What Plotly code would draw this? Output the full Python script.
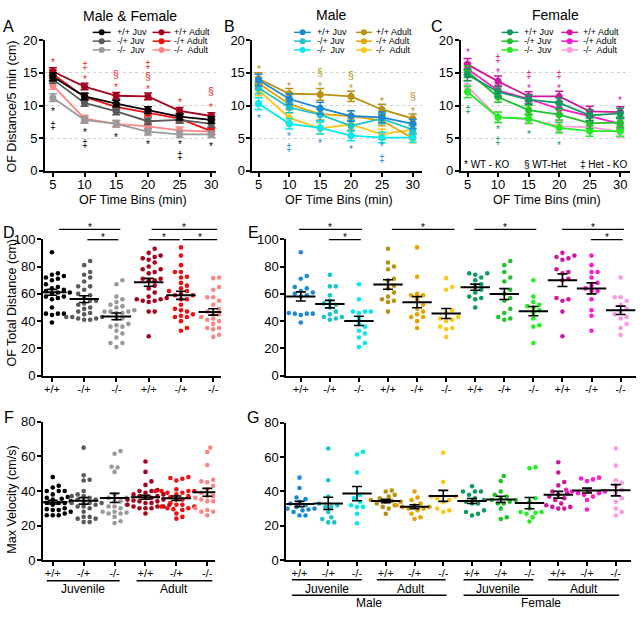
import numpy as np
import plotly.graph_objects as go

W, H = 641, 617
FONT = "Liberation Sans, Arial, sans-serif"

# ---------------- data: time course (A, B, C) ----------------
times = [5, 10, 15, 20, 25, 30]
geno = ["+/+", "-/+", "-/-"]

A_juv_wt = [14.4, 11.4, 10.3, 9.3, 8.3, 7.8]
A_juv_het = [14.0, 10.4, 9.1, 7.6, 7.8, 7.2]
A_juv_ko = [11.2, 7.8, 7.2, 6.0, 5.6, 5.6]
A_ad_wt = [15.2, 12.9, 11.5, 11.4, 9.2, 8.4]
A_ad_het = [14.8, 11.3, 9.8, 8.9, 8.0, 6.1]
A_ad_ko = [13.1, 8.0, 7.2, 6.8, 6.2, 6.0]
A_sem = [0.6, 0.5, 0.5, 0.5, 0.5, 0.5]

B_juv_wt = [13.9, 11.0, 9.6, 8.4, 8.2, 7.2]
B_juv_het = [12.7, 9.7, 8.6, 6.9, 8.0, 6.3]
B_juv_ko = [10.3, 7.2, 6.6, 5.4, 5.1, 5.1]
B_ad_wt = [14.1, 11.8, 11.7, 11.4, 9.4, 8.0]
B_ad_het = [13.4, 10.2, 8.7, 8.4, 7.7, 5.0]
B_ad_ko = [12.4, 8.1, 6.5, 7.1, 5.6, 6.3]
B_sem = [0.9, 0.8, 0.9, 0.8, 0.8, 0.7]

C_juv_wt = [14.7, 12.1, 10.9, 10.4, 8.5, 8.8]
C_juv_het = [15.2, 11.3, 9.3, 8.6, 7.3, 7.4]
C_juv_ko = [12.1, 8.2, 8.0, 6.6, 6.1, 6.1]
C_ad_wt = [16.3, 13.7, 11.4, 11.4, 9.1, 9.0]
C_ad_het = [15.6, 12.3, 11.0, 9.5, 8.4, 7.2]
C_ad_ko = [12.9, 8.2, 7.9, 6.8, 6.7, 6.0]
C_sem = [0.9, 0.8, 0.7, 0.8, 0.8, 0.8]

# significance symbols: (time, y value, symbol, group)
A_marks = [(5, 17.1, "*", "ad"), (5, 9.5, "*", "juv"), (5, 7.1, "‡", "juv"),
           (10, 16.2, "‡", "ad"), (10, 14.4, "*", "ad"), (10, 6.3, "*", "juv"), (10, 4.2, "‡", "juv"),
           (15, 14.9, "§", "ad"), (15, 13.2, "*", "ad"), (15, 5.5, "*", "juv"),
           (20, 16.4, "‡", "ad"), (20, 14.5, "§", "ad"), (20, 12.9, "*", "ad"), (20, 4.5, "*", "juv"),
           (25, 10.9, "*", "ad"), (25, 4.5, "*", "juv"), (25, 2.5, "‡", "juv"),
           (30, 12.2, "§", "ad"), (30, 10.1, "*", "ad"), (30, 4.2, "*", "juv")]
B_marks = [(5, 15.9, "*", "ad"), (5, 8.5, "*", "juv"),
           (10, 13.4, "*", "ad"), (10, 5.8, "*", "juv"), (10, 3.6, "‡", "juv"),
           (15, 15.1, "§", "ad"), (15, 13.4, "*", "ad"), (15, 4.7, "*", "juv"),
           (20, 14.6, "§", "ad"), (20, 13.0, "*", "ad"), (20, 3.7, "*", "juv"),
           (25, 11.1, "*", "ad"), (25, 4.2, "*", "juv"), (25, 1.9, "‡", "juv"),
           (30, 11.4, "§", "ad"), (30, 9.6, "*", "ad")]
C_marks = [(5, 18.5, "*", "ad"), (5, 9.5, "‡", "juv"),
           (10, 17.3, "‡", "ad"), (10, 15.5, "*", "ad"), (10, 6.8, "*", "juv"), (10, 4.8, "‡", "juv"),
           (15, 14.8, "‡", "ad"), (15, 13.0, "*", "ad"), (15, 6.0, "*", "juv"),
           (20, 14.9, "‡", "ad"), (20, 13.0, "*", "ad"), (20, 4.3, "*", "juv"),
           (30, 11.2, "*", "ad")]

# ---------------- data: total distance (E), per animal ----------------
E_m_juv_wt = [90.5, 73, 71, 65, 64, 62, 61, 60, 59, 58, 46, 45.5, 45.5, 45.5, 44.5, 39]
E_m_juv_het = [74, 65.5, 65.5, 59, 55, 53, 52, 50, 47, 45, 43, 43, 42, 41]
E_m_juv_ko = [67, 56, 47, 47, 47, 46, 42, 38, 36, 33, 31, 28, 24, 21]
E_m_ad_wt = [93, 83, 80, 78, 71, 70, 66, 64, 61, 58, 56, 55, 54, 47]
E_m_ad_het = [94, 72.5, 60, 59, 59, 56, 52, 49, 47, 45, 43, 43, 40, 35]
E_m_ad_ko = [71.5, 65, 63, 48, 46, 43, 42, 41, 40, 36, 35, 34, 28.5]
E_f_juv_wt = [75, 75, 74, 72, 70, 67, 65, 63, 61, 58, 57, 56, 50]
E_f_juv_het = [84, 81, 76, 72, 69, 63, 60, 57, 55, 49, 46, 43, 42, 41]
E_f_juv_ko = [70, 58, 54, 52, 51, 50, 48, 46, 42, 37, 36, 24]
E_f_ad_wt = [90, 88, 87, 86, 85, 78, 76, 75, 71, 70, 57, 56, 55, 47, 29]
E_f_ad_het = [88, 81, 76, 76, 72, 68, 66, 64, 62, 62, 56, 48, 44, 33]
E_f_ad_ko = [72, 57.5, 57.5, 55, 52, 49, 47, 45, 43, 42, 38, 35, 30]

# ---------------- data: max velocity (G), per animal ----------------
G_m_juv_wt = [48, 42, 36.5, 35.5, 34, 33, 32, 31, 30, 30, 29.5, 29, 28, 26, 26]
G_m_juv_het = [65, 46.5, 37, 33, 32, 31, 31, 28, 25, 24, 22, 22]
G_m_juv_ko = [63, 61.5, 51, 38, 36, 34, 32, 31, 31, 27, 21.5]
G_m_ad_wt = [40.5, 40, 38, 37, 36, 35, 34.5, 34, 34, 33, 32, 31, 30, 27]
G_m_ad_het = [40, 36.5, 35, 33, 32, 32, 31, 31, 30, 30, 29, 27, 25, 24]
G_m_ad_ko = [62.5, 45.5, 37, 37, 36, 35, 34, 30, 29, 28]
G_f_juv_wt = [43, 40, 40, 40, 38, 36, 35, 34, 33, 33, 29, 28, 27, 26]
G_f_juv_het = [49, 46, 40, 38, 37, 36, 35, 35, 34, 33, 33, 30, 25, 24]
G_f_juv_ko = [54, 53.5, 36, 34, 30, 28, 28, 27.5, 27, 25, 22.5]
G_f_ad_wt = [57, 51, 45.5, 43.5, 40, 39, 38, 37, 36, 35, 33, 32, 31, 31, 30, 30]
G_f_ad_het = [48, 47.5, 47, 46, 41, 40, 40, 40, 39, 39, 38, 37, 35, 29.5]
G_f_ad_ko = [65, 55, 46.5, 45, 43, 41, 39, 36, 34, 30, 28, 26]

# significance bars (x from, x to, level)
D_bars = [(0.22, 2.12, 0), (1.1, 2.06, 1), (3.09, 5.12, 0), (3.0, 3.96, 1), (4.05, 5.12, 1)]
E_bars = [(-0.06, 2.11, 0), (0.97, 2.07, 1), (3.14, 5.3, 0), (5.99, 8.12, 0), (9.01, 11.14, 0), (10.0, 11.1, 1)]

# ---------------- colours ----------------
COL_D = ["#000000", "#5a5a5a", "#9a9a9a", "#a5001c", "#ee1010", "#ff8585"]
COL_B = ["#1b8ad6", "#1cc3c8", "#00eaf0", "#b8920f", "#e6a300", "#ffc61a"]
COL_C = ["#0f9a5c", "#1fc32a", "#22ee22", "#d0189f", "#ff19cf", "#ff99e2"]
COL_E = COL_B + COL_C
MARK_A = {"ad": "#e8262a", "juv": "#000000"}
MARK_B = {"ad": "#b8920f", "juv": "#1b8ad6"}
MARK_C = {"ad": "#d0189f", "juv": "#0f9a5c"}


def px(x):
    return x / W


def py(y):
    return 1 - y / H


def swarm(vals, ypu, xpu, d=5.3, step=3.0):
    vals = np.asarray(vals, float)
    order = np.argsort(vals)
    placed = []
    offs = np.zeros(len(vals))
    for i in order:
        y = vals[i] * ypu
        k = 0
        while True:
            n = (k + 1) // 2
            c = 0.0 if k == 0 else n * step * (1 if k % 2 else -1)
            if all((c - a) ** 2 + (y - b) ** 2 >= d * d for a, b in placed):
                break
            k += 1
        placed.append((c, y))
        offs[i] = c
    return offs / xpu


fig = go.Figure()
annotations = []
shapes = []


def axstyle(**kw):
    d = dict(showline=True, linecolor="black", linewidth=1.5, ticks="outside", ticklen=4,
             tickwidth=1.5, tickcolor="black", showgrid=False, zeroline=False,
             tickfont=dict(size=13, color="black", family=FONT), fixedrange=True)
    d.update(kw)
    return d


def text(x, y, t, size=12, color="black", angle=0, xanchor="center", yanchor="middle", yshift=0):
    annotations.append(dict(x=px(x), y=py(y), xref="paper", yref="paper", text=t, showarrow=False,
                            font=dict(size=size, color=color, family=FONT), textangle=angle,
                            xanchor=xanchor, yanchor=yanchor, yshift=yshift))


# ---------------- line panels ----------------
line_panels = [
    ("", [A_juv_wt, A_juv_het, A_juv_ko, A_ad_wt, A_ad_het, A_ad_ko], A_sem, COL_D, A_marks, MARK_A,
     (45, 217), [3.74, 30.79], dict(l0=93, l1=111, t=115, r0=153, r1=171, rt=173)),
    ("2", [B_juv_wt, B_juv_het, B_juv_ko, B_ad_wt, B_ad_het, B_ad_ko], B_sem, COL_B, B_marks, MARK_B,
     (253, 423), [3.98, 31.45], dict(l0=295, l1=312, t=316, r0=357, r1=373, rt=375)),
    ("3", [C_juv_wt, C_juv_het, C_juv_ko, C_ad_wt, C_ad_het, C_ad_ko], C_sem, COL_C, C_marks, MARK_C,
     (462, 632), [3.86, 31.6], dict(l0=503, l1=520, t=524, r0=563, r1=580, rt=583)),
]
labels = ["+/+ Juv", "-/+ Juv", "-/-\u00a0\u00a0Juv", "+/+ Adult", "-/+ Adult", "-/-\u00a0\u00a0Adult"]

for ax, series, sem, cols, marks, mcol, xd, xr, lg in line_panels:
    xa, ya = "x" + ax, "y" + ax
    for k in [5, 4, 3, 2, 1, 0]:
        fig.add_trace(go.Scatter(
            x=times, y=series[k], mode="lines+markers", xaxis=xa, yaxis=ya, showlegend=False,
            line=dict(color=cols[k], width=1.8), marker=dict(color=cols[k], size=7),
            error_y=dict(type="data", array=sem, color=cols[k], thickness=1.5, width=4)))
    fig.update_layout(**{
        "xaxis" + ax: axstyle(domain=[px(xd[0]), px(xd[1])], range=xr, tickvals=times, anchor=ya,
                              ticklabelstandoff=-3),
        "yaxis" + ax: axstyle(domain=[py(168), py(34)], range=[0, 20], tickvals=[0, 5, 10, 15, 20],
                              showgrid=True, gridcolor="#d0d0d0", griddash="dot", gridwidth=1, anchor=xa,
                              ticklabelstandoff=-1),
    })
    for (t, yv, s, g) in marks:
        annotations.append(dict(x=t, y=yv, xref=xa, yref=ya, text=s, showarrow=False,
                                font=dict(size=10 if s == "*" else 10.5, color=mcol[g], family=FONT),
                                yshift=-3 if s == "*" else 0))
    rows = [26, 35, 44]
    for r in range(3):
        for side, c in ((0, cols[r]), (1, cols[r + 3])):
            x0, x1, tx = (lg["l0"], lg["l1"], lg["t"]) if side == 0 else (lg["r0"], lg["r1"], lg["rt"])
            shapes.append(dict(type="line", xref="paper", yref="paper", x0=px(x0), x1=px(x1),
                               y0=py(rows[r]), y1=py(rows[r]), line=dict(color=c, width=1.5)))
            shapes.append(dict(type="circle", xref="paper", yref="paper", xsizemode="pixel", ysizemode="pixel",
                               xanchor=px((x0 + x1) / 2), yanchor=py(rows[r]), x0=-3, x1=3, y0=-3, y1=3,
                               fillcolor=c, line=dict(color=c, width=0)))
            text(tx, rows[r], labels[r + side * 3], size=9, xanchor="left")
    text((xd[0] + xd[1]) / 2 + 2, 198, "OF Time Bins (min)", size=12.5)

text(130, 9, "Male & Female", size=14)
text(333, 8, "Male", size=14)
text(557, 8, "Female", size=14)
text(12, 102, "OF Distance/5 min (cm)", size=12.5, angle=-90)
text(489, 161, "* WT - KO", size=10)
text(547, 161, "§ WT-Het", size=10)
text(605, 161, "‡ Het - KO", size=10)

# ---------------- scatter panels ----------------
D_groups = [E_m_juv_wt + E_f_juv_wt, E_m_juv_het + E_f_juv_het, E_m_juv_ko + E_f_juv_ko,
            E_m_ad_wt + E_f_ad_wt, E_m_ad_het + E_f_ad_het, E_m_ad_ko + E_f_ad_ko]
E_groups = [E_m_juv_wt, E_m_juv_het, E_m_juv_ko, E_m_ad_wt, E_m_ad_het, E_m_ad_ko,
            E_f_juv_wt, E_f_juv_het, E_f_juv_ko, E_f_ad_wt, E_f_ad_het, E_f_ad_ko]
F_groups = [G_m_juv_wt + G_f_juv_wt, G_m_juv_het + G_f_juv_het, G_m_juv_ko + G_f_juv_ko,
            G_m_ad_wt + G_f_ad_wt, G_m_ad_het + G_f_ad_het, G_m_ad_ko + G_f_ad_ko]
G_groups = [G_m_juv_wt, G_m_juv_het, G_m_juv_ko, G_m_ad_wt, G_m_ad_het, G_m_ad_ko,
            G_f_juv_wt, G_f_juv_het, G_f_juv_ko, G_f_ad_wt, G_f_ad_het, G_f_ad_ko]

scatter_panels = [
    ("4", D_groups, COL_D, (43, 222), [-0.28, 5.25], (238, 378), [0, 100], 32.4),
    ("5", E_groups, COL_E, (287, 638), [-0.505, 11.53], (238, 378), [0, 100], 29.1),
    ("6", F_groups, COL_D, (43, 216), [-0.32, 5.26], (425, 567), [0, 80], 31.0),
    ("7", G_groups, COL_E, (287, 633), [-0.466, 11.53], (426, 567), [0, 80], 28.8),
]

for ax, groups, cols, xd, xr, yd, yr, xpu in scatter_panels:
    xa, ya = "x" + ax, "y" + ax
    ypu = (yd[1] - yd[0]) / (yr[1] - yr[0])
    n = len(groups)
    for i, vals in enumerate(groups):
        offs = swarm(vals, ypu, xpu)
        fig.add_trace(go.Scatter(x=i + offs, y=vals, mode="markers", xaxis=xa, yaxis=ya, showlegend=False,
                                 marker=dict(color=cols[i], size=4.6, line=dict(width=0))))
    for i, vals in enumerate(groups):
        v = np.asarray(vals, float)
        m = v.mean()
        s = v.std(ddof=1) / np.sqrt(len(v))
        fig.add_trace(go.Scatter(x=[i], y=[m], mode="markers", xaxis=xa, yaxis=ya, showlegend=False,
                                 marker=dict(symbol="line-ew", size=21, color="black",
                                             line=dict(color="black", width=2)),
                                 error_y=dict(type="data", array=[s], color="black", thickness=1.6, width=5)))
    fig.update_layout(**{
        "xaxis" + ax: axstyle(domain=[px(xd[0]), px(xd[1])], range=xr, tickvals=list(range(n)),
                              ticktext=geno * (n // 3), tickfont=dict(size=11, color="black", family=FONT),
                              anchor=ya, ticklabelstandoff=-2),
        "yaxis" + ax: axstyle(domain=[py(yd[1]), py(yd[0])], range=yr,
                              tickvals=list(range(yr[0], yr[1] + 1, 20)), anchor=xa, ticklabelstandoff=-1),
    })

text(12, 303, "OF Total Distance (cm)", size=12.5, angle=-90)
text(12, 505, "Max Velocity (cm/s)", size=12.5, angle=-90)

# significance bars
for ax, bars, t0, xpu in (("4", D_bars, 52, 32.4), ("5", E_bars, 301.7, 29.1)):
    for (a, b, lev) in bars:
        yy = 228 if lev == 0 else 238.5
        xa0 = t0 + a * xpu
        xb0 = t0 + b * xpu
        shapes.append(dict(type="line", xref="paper", yref="paper", x0=px(xa0), x1=px(xb0),
                           y0=py(yy), y1=py(yy), line=dict(color="black", width=1.3)))
        text((xa0 + xb0) / 2, yy - 5, "*", size=10, color="#000000", yshift=-3)


def group_line(x0, x1, y, label, ty):
    shapes.append(dict(type="line", xref="paper", yref="paper", x0=px(x0), x1=px(x1),
                       y0=py(y), y1=py(y), line=dict(color="black", width=1.5)))
    text((x0 + x1) / 2, ty, label, size=12)


group_line(47, 120, 588, "Juvenile", 597)
group_line(137, 213, 588, "Adult", 597)
group_line(293, 363, 587, "Juvenile", 596)
group_line(378, 447, 587, "Adult", 596)
group_line(465, 535, 587, "Juvenile", 596)
group_line(550, 621, 587, "Adult", 596)
group_line(293, 448, 603, "Male", 611)
group_line(465, 621, 603, "Female", 611)

# panel letters
for L, x, y in (("A", 9, 20), ("B", 230, 20), ("C", 438, 20), ("D", 9, 231), ("E", 254, 231),
                ("F", 9, 421), ("G", 254, 421)):
    text(x, y, L, size=16)

fig.update_layout(width=W, height=H, margin=dict(l=0, r=0, t=0, b=0), paper_bgcolor="white",
                  plot_bgcolor="white", font=dict(family=FONT, color="black"), showlegend=False,
                  annotations=annotations, shapes=shapes)
fig.write_html("out.html", config={"displayModeBar": False},
               post_script="document.body.style.margin='0px';")
